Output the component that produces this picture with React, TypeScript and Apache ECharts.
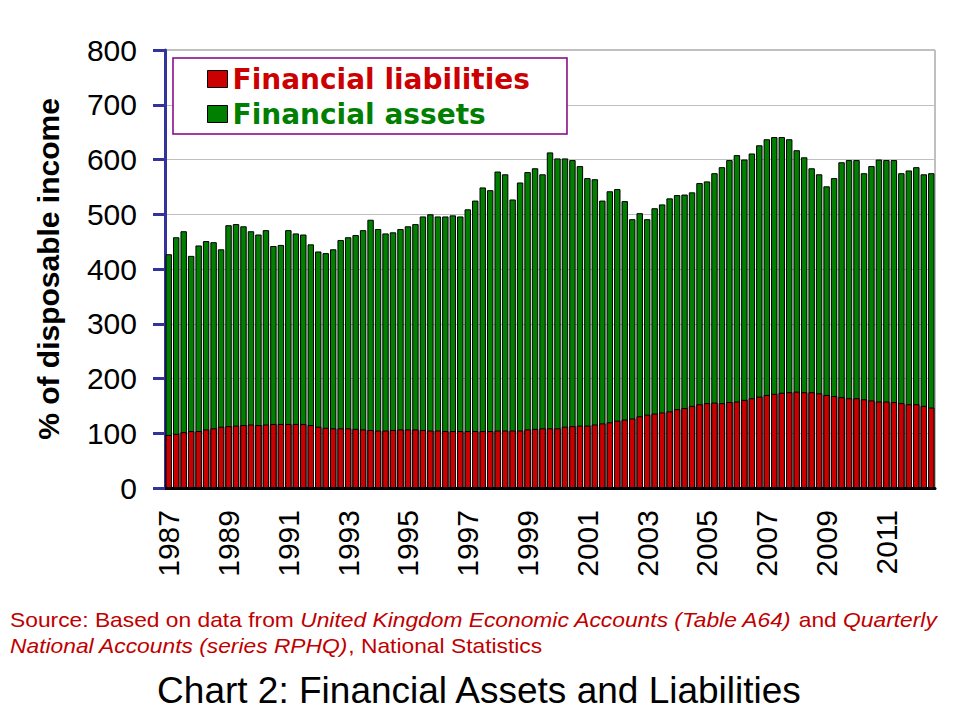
import { useEffect, useRef } from "react";
import * as echarts from "echarts";

const FONT = "Arial, 'Liberation Sans', sans-serif";
const WIDE_FONT = "'DejaVu Sans', Arial, sans-serif";

// quarterly, 1987 Q1 .. 2012 Q3
const years = Array.from({ length: 26 }, (_, i) => 1987 + i);
const quarters = years.flatMap(y => ["Q1", "Q2", "Q3", "Q4"].map(q => `${y} ${q}`)).slice(0, 103);

// % of disposable income
const assets = [
  427, 458, 469, 424, 443, 451, 449, 436, 480, 482, 478, 469, 463, 471, 442, 444,
  471, 465, 463, 445, 432, 429, 436, 453, 458, 462, 471, 490, 473, 465, 467, 473,
  478, 482, 496, 500, 496, 496, 498, 496, 509, 525, 549, 544, 578, 573, 527, 558,
  577, 584, 573, 613, 602, 602, 599, 588, 566, 564, 525, 542, 546, 524, 491, 502,
  491, 511, 518, 529, 535, 536, 540, 557, 560, 575, 586, 599, 608, 600, 611, 626,
  637, 641, 641, 637, 617, 604, 584, 573, 551, 566, 595, 599, 599, 575, 588, 600,
  599, 599, 575, 580, 586, 573, 575
];

const liabilities = [
  97, 99, 102, 104, 104, 107, 109, 112, 113, 114, 115, 116, 115, 116, 117, 117,
  117, 117, 117, 115, 112, 110, 109, 109, 109, 108, 107, 106, 105, 105, 106, 107,
  107, 107, 106, 105, 105, 104, 104, 104, 104, 104, 104, 104, 105, 105, 105, 105,
  107, 108, 109, 109, 109, 112, 113, 114, 114, 116, 118, 120, 123, 125, 127, 131,
  134, 136, 138, 140, 144, 146, 150, 153, 155, 156, 155, 157, 158, 161, 164, 167,
  170, 172, 174, 175, 176, 175, 175, 173, 170, 168, 166, 164, 164, 162, 160, 158,
  158, 157, 155, 153, 153, 150, 147
];

const RED = "#cc0000";
const GREEN = "#007f00";

export default function App() {
  const chartRef = useRef<HTMLDivElement>(null);

  useEffect(() => {
    if (!chartRef.current) return;
    const chart = echarts.init(chartRef.current, null, { renderer: "svg" });

    chart.setOption({
      animation: false,
      backgroundColor: "#fff",
      textStyle: { fontFamily: FONT },
      grid: {
        left: 165, right: 25, top: 50, bottom: 232,
        show: true, borderColor: "#808080", borderWidth: 1
      },
      legend: {
        orient: "vertical",
        left: 173,
        top: 58,
        icon: "rect",
        itemWidth: 20,
        itemHeight: 17,
        itemGap: 7,
        padding: [7, 37, 6, 34],
        borderColor: "#800080",
        borderWidth: 1.5,
        backgroundColor: "#fff",
        itemStyle: { borderColor: "#000", borderWidth: 1 },
        textStyle: { fontSize: 28, fontWeight: "bold", fontFamily: WIDE_FONT },
        data: [
          { name: "Financial liabilities", textStyle: { color: RED } },
          { name: "Financial assets", textStyle: { color: GREEN } }
        ]
      },
      xAxis: {
        type: "category",
        data: quarters,
        axisLine: { lineStyle: { color: "#000", width: 3 } },
        axisTick: { interval: 3, length: 10, lineStyle: { color: "#000", width: 3 } },
        axisLabel: {
          interval: 7,
          rotate: 90,
          margin: 22,
          fontSize: 30,
          color: "#000",
          fontFamily: FONT,
          formatter: (v: string) => v.slice(0, 4)
        }
      },
      yAxis: {
        type: "value",
        min: 0,
        max: 800,
        interval: 100,
        name: "% of disposable income",
        nameLocation: "middle",
        nameGap: 102,
        nameTextStyle: { fontSize: 30, fontWeight: "bold", color: "#000", fontFamily: FONT },
        axisLine: { show: true, lineStyle: { color: "#333399", width: 3 } },
        axisTick: { show: true, length: 12, lineStyle: { color: "#333399", width: 3 } },
        axisLabel: { fontSize: 30, margin: 28, color: "#000", fontFamily: FONT },
        splitLine: { lineStyle: { color: "#c0c0c0", width: 1 } }
      },
      series: [
        {
          name: "Financial assets",
          type: "bar",
          data: assets,
          barCategoryGap: "14%",
          itemStyle: { color: GREEN, borderColor: "#000", borderWidth: 1 }
        },
        {
          name: "Financial liabilities",
          type: "bar",
          data: liabilities,
          barGap: "-100%",
          barCategoryGap: "14%",
          itemStyle: { color: RED, borderColor: "#000", borderWidth: 1 }
        }
      ],
      graphic: [
        {
          type: "text",
          x: 10,
          y: 607,
          scaleX: 1.14,
          style: {
            text:
              "{n|Source: Based on data from }{i|United Kingdom Economic Accounts (Table A64)}{n| and }{i|Quarterly}\n" +
              "{i|National Accounts (series RPHQ)}{n|, National Statistics}",
            rich: {
              n: { fontSize: 20, fontFamily: FONT, fill: "#c00000", lineHeight: 26 },
              i: { fontSize: 20, fontFamily: FONT, fontStyle: "italic", fill: "#c00000", lineHeight: 26 }
            }
          }
        },
        {
          type: "text",
          left: "center",
          top: 672,
          style: {
            text: "Chart 2: Financial Assets and Liabilities",
            fontSize: 37,
            fontFamily: FONT,
            fill: "#000"
          }
        }
      ]
    });

    return () => chart.dispose();
  }, []);

  return (
    <div
      ref={chartRef}
      style={{ position: "fixed", left: 0, top: 0, width: 960, height: 720 }}
    />
  );
}
